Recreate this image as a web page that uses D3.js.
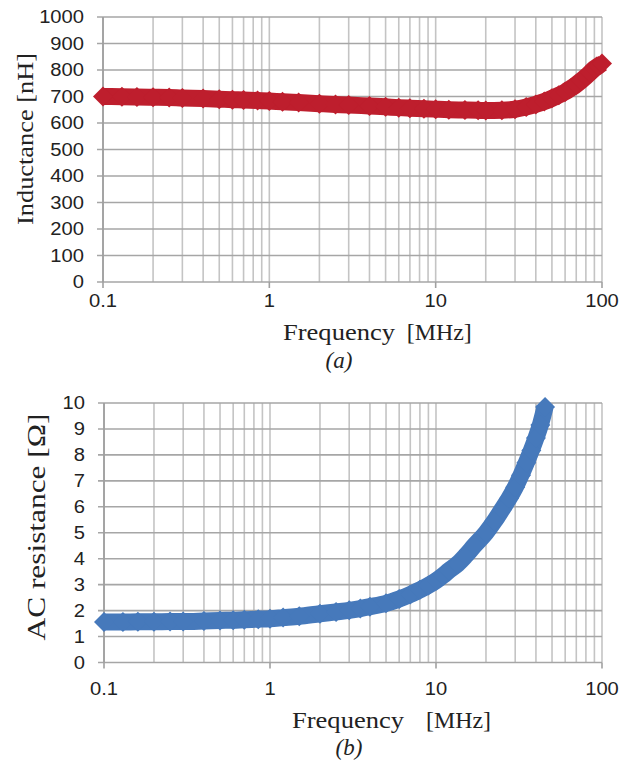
<!DOCTYPE html>
<html>
<head>
<meta charset="utf-8">
<script src="https://cdn.jsdelivr.net/npm/d3@7"></script>
<style>
  body { margin: 0; background: #fff; }
  svg { display: block; }
</style>
</head>
<body>
<svg id="fig" width="631" height="763"></svg>
<script>
// 频率 [MHz] 与电感 [nH]，图 (a)
var freqA = [0.1, 0.13, 0.16, 0.2, 0.25, 0.3, 0.4, 0.5, 0.6, 0.7, 0.85, 1, 1.2, 1.5, 2, 2.5, 3, 4, 5, 6, 7, 8.5, 10, 12, 15, 18, 20, 25, 30, 35, 40, 45, 50, 55, 60, 65, 70, 75, 80, 85, 90, 95, 100];
var inductance = [700, 699, 698, 697, 696, 694, 692, 690, 688, 687, 685, 683, 680, 677, 673, 670, 668, 664, 661, 658, 656, 654, 652, 650, 649, 648, 647, 648, 652, 660, 670, 681, 693, 705, 717, 731, 745, 760, 775, 790, 805, 815, 825];

// 频率 [MHz] 与交流电阻 [Ω]，图 (b)
var freqB = [0.1, 0.13, 0.16, 0.2, 0.25, 0.3, 0.4, 0.5, 0.6, 0.7, 0.85, 1, 1.2, 1.5, 2, 2.5, 3, 3.5, 4, 5, 6, 7, 8, 9, 10, 11, 12, 13.5, 15, 17, 20, 22.5, 25, 27.5, 30, 32.5, 35, 37.5, 40, 42.5, 45.4];
var resistance = [1.56, 1.56, 1.57, 1.57, 1.58, 1.58, 1.6, 1.62, 1.63, 1.65, 1.67, 1.69, 1.73, 1.78, 1.88, 1.95, 2.01, 2.08, 2.15, 2.28, 2.45, 2.62, 2.8, 2.97, 3.15, 3.35, 3.55, 3.8, 4.1, 4.5, 5.0, 5.45, 5.9, 6.32, 6.75, 7.22, 7.7, 8.17, 8.65, 9.15, 9.85];

var xTicks = [0.1, 1, 10, 100];
var yTicksA = d3.range(0, 1001, 100);
var yTicksB = d3.range(0, 11, 1);

var SANS = "'Liberation Sans', Arial, sans-serif";
var SERIF = "'Liberation Serif', 'Times New Roman', serif";

var svg = d3.select("#fig");

// 对数网格的次刻度 0.1..100
function minorValues() {
    var v = [];
    [0.1, 1, 10].forEach(function (d) {
        for (var k = 1; k <= 9; k++) v.push(d * k);
    });
    v.push(100);
    return v;
}

// 按比例拉宽文字
function stretch(sel, k) {
    sel.each(function () {
        var w = this.getComputedTextLength();
        d3.select(this).attr("textLength", w * k).attr("lengthAdjust", "spacingAndGlyphs");
    });
}

function drawPanel(cfg) {
    var x = d3.scaleLog().domain([0.1, 100]).range([cfg.left, cfg.right]);
    var y = d3.scaleLinear().domain(cfg.yDomain).range([cfg.bottom, cfg.top]);
    var g = svg.append("g");

    // 竖向网格
    g.append("g").selectAll("line")
        .data(minorValues())
        .enter()
        .append("line")
        .attr("x1", function (d) { return x(d); })
        .attr("x2", function (d) { return x(d); })
        .attr("y1", cfg.top)
        .attr("y2", cfg.bottom)
        .attr("stroke", "#c4c4c4")
        .attr("stroke-width", 1.6);

    // 横向网格及左侧刻度
    g.append("g").selectAll("line")
        .data(cfg.yTicks)
        .enter()
        .append("line")
        .attr("x1", cfg.left - 6)
        .attr("x2", cfg.right)
        .attr("y1", function (d) { return y(d); })
        .attr("y2", function (d) { return y(d); })
        .attr("stroke", "#a6a6a6")
        .attr("stroke-width", 1.6);

    // 坐标轴
    g.append("line")
        .attr("x1", cfg.left).attr("x2", cfg.left)
        .attr("y1", cfg.top).attr("y2", cfg.bottom)
        .attr("stroke", "#a0a0a0").attr("stroke-width", 1.8);
    g.append("g").selectAll("line")
        .data(xTicks)
        .enter()
        .append("line")
        .attr("x1", function (d) { return x(d); })
        .attr("x2", function (d) { return x(d); })
        .attr("y1", cfg.bottom)
        .attr("y2", cfg.bottom + 6)
        .attr("stroke", "#a0a0a0")
        .attr("stroke-width", 1.6);

    // 刻度文字
    var yl = g.append("g").selectAll("text")
        .data(cfg.yTicks)
        .enter()
        .append("text")
        .attr("x", cfg.left - 19)
        .attr("y", function (d) { return y(d); })
        .attr("dy", "0.36em")
        .attr("text-anchor", "end")
        .attr("font-family", SANS)
        .attr("font-size", 18)
        .attr("fill", "#222")
        .text(function (d) { return d; });
    stretch(yl, 1.12);

    var xl = g.append("g").selectAll("text")
        .data(xTicks)
        .enter()
        .append("text")
        .attr("x", function (d) { return x(d); })
        .attr("y", cfg.xLabelY)
        .attr("text-anchor", "middle")
        .attr("font-family", SANS)
        .attr("font-size", 18)
        .attr("fill", "#222")
        .text(function (d) { return d; });
    stretch(xl, 1.12);

    // 数据带：粗线加菱形点
    var pts = cfg.xs.map(function (d, i) { return [d, cfg.ys[i]]; });
    var line = d3.line()
        .x(function (d) { return x(d[0]); })
        .y(function (d) { return y(d[1]); })
        .curve(d3.curveMonotoneX);
    g.append("path")
        .datum(pts)
        .attr("d", line)
        .attr("fill", "none")
        .attr("stroke", cfg.color)
        .attr("stroke-width", 17);
    g.append("g").selectAll("path")
        .data(pts)
        .enter()
        .append("path")
        .attr("transform", function (d) { return "translate(" + x(d[0]) + "," + y(d[1]) + ")"; })
        .attr("d", d3.symbol(d3.symbolDiamond2, 255))
        .attr("fill", cfg.color);

    // 轴标题
    g.append("text")
        .attr("transform", "translate(" + cfg.yTitleX + "," + cfg.yTitleY + ") rotate(-90)")
        .attr("text-anchor", "middle")
        .attr("font-family", SERIF)
        .attr("font-size", cfg.yTitleSize)
        .attr("fill", "#222")
        .attr("textLength", cfg.yTitleLen)
        .attr("lengthAdjust", "spacingAndGlyphs")
        .text(cfg.yTitle);

    g.append("text")
        .attr("x", cfg.freqX)
        .attr("y", cfg.xTitleY)
        .attr("font-family", SERIF)
        .attr("font-size", 23)
        .attr("fill", "#222")
        .attr("textLength", cfg.freqLen)
        .attr("lengthAdjust", "spacingAndGlyphs")
        .text("Frequency");
    g.append("text")
        .attr("x", cfg.unitX)
        .attr("y", cfg.xTitleY)
        .attr("font-family", SERIF)
        .attr("font-size", 23)
        .attr("fill", "#222")
        .attr("textLength", 65)
        .attr("lengthAdjust", "spacingAndGlyphs")
        .text("[MHz]");

    g.append("text")
        .attr("x", cfg.capX)
        .attr("y", cfg.capY)
        .attr("text-anchor", "middle")
        .attr("font-family", SERIF)
        .attr("font-style", "italic")
        .attr("font-size", 23)
        .attr("fill", "#222")
        .text(cfg.caption);
}

drawPanel({
    left: 103, right: 602, top: 17, bottom: 282,
    yDomain: [0, 1000], yTicks: yTicksA,
    xs: freqA, ys: inductance, color: "#be1e2d",
    xLabelY: 307,
    yTitle: "Inductance [nH]", yTitleX: 32.5, yTitleY: 139, yTitleSize: 24, yTitleLen: 172,
    freqX: 283, unitX: 406.7, freqLen: 112, xTitleY: 340,
    caption: "(a)", capX: 339, capY: 368
});

drawPanel({
    left: 104, right: 602, top: 403, bottom: 662.5,
    yDomain: [0, 10], yTicks: yTicksB,
    xs: freqB, ys: resistance, color: "#4679bb",
    xLabelY: 695,
    yTitle: "AC resistance [\u03A9]", yTitleX: 45, yTitleY: 527, yTitleSize: 26, yTitleLen: 227,
    freqX: 292, unitX: 426, freqLen: 112, xTitleY: 728,
    caption: "(b)", capX: 349, capY: 755
});
</script>
</body>
</html>
